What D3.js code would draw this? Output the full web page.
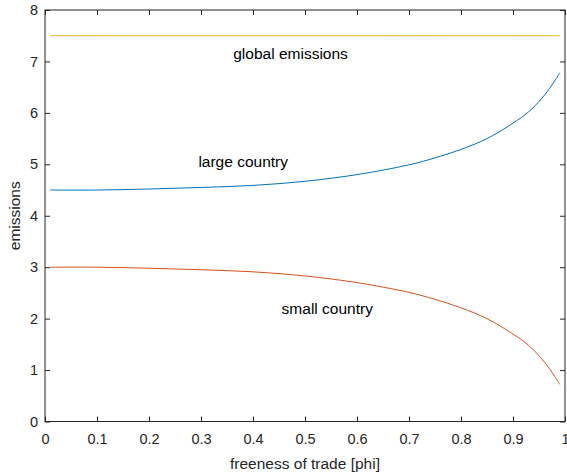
<!DOCTYPE html>
<html>
<head>
<meta charset="utf-8">
<script src="https://cdn.jsdelivr.net/npm/d3@7"></script>
<style>
  body { margin: 0; background: #fff; }
  svg { display: block; font-family: "Liberation Sans", Arial, sans-serif; }
</style>
</head>
<body>
<svg class="chart"></svg>
<script>
// values
PHI = [0.01, 0.1, 0.2, 0.3, 0.4, 0.5, 0.6, 0.7, 0.75, 0.8, 0.85, 0.9, 0.93, 0.95, 0.97, 0.98, 0.99];
GLOBAL_EMISSIONS = [7.5, 7.5, 7.5, 7.5, 7.5, 7.5, 7.5, 7.5, 7.5, 7.5, 7.5, 7.5, 7.5, 7.5, 7.5, 7.5, 7.5];
LARGE_COUNTRY = [4.50, 4.50, 4.52, 4.55, 4.59, 4.67, 4.80, 4.99, 5.125, 5.29, 5.50, 5.80, 6.02, 6.22, 6.47, 6.62, 6.78];
SMALL_COUNTRY = [3.00, 3.00, 2.98, 2.95, 2.91, 2.83, 2.70, 2.51, 2.375, 2.21, 2.00, 1.70, 1.48, 1.28, 1.03, 0.88, 0.72];

X_TICKS = [0, 0.1, 0.2, 0.3, 0.4, 0.5, 0.6, 0.7, 0.8, 0.9, 1];
Y_TICKS = [0, 1, 2, 3, 4, 5, 6, 7, 8];

LABELS = [
    {text: "global emissions", phi: 0.362, value: 7.15},
    {text: "large country", phi: 0.295, value: 5.05},
    {text: "small country", phi: 0.455, value: 2.19}
];

WIDTH = 567;
HEIGHT = 475;
MARGIN = {top: 10, right: 2, bottom: 53.5, left: 45};
TICK_LEN = 5;
AXIS_COLOR = "#262626";

svg = d3.select(".chart").attr("width", WIDTH).attr("height", HEIGHT);

plotW = WIDTH - MARGIN.left - MARGIN.right;
plotH = HEIGHT - MARGIN.top - MARGIN.bottom;

x = d3.scaleLinear().domain([0, 1]).range([MARGIN.left, MARGIN.left + plotW]);
y = d3.scaleLinear().domain([0, 8]).range([MARGIN.top + plotH, MARGIN.top]);

function styleAxis(g, showLabels) {
    g.select(".domain").remove();
    g.selectAll(".tick line").attr("stroke", AXIS_COLOR);
    g.selectAll(".tick text")
        .attr("fill", AXIS_COLOR)
        .style("font-size", "14.5px")
        .style("font-family", "'Liberation Sans', Arial, sans-serif");
    if (!showLabels) g.selectAll(".tick text").remove();
}

// bottom
svg.append("g")
    .attr("transform", "translate(0," + y(0) + ")")
    .call(d3.axisBottom(x).tickValues(X_TICKS).tickFormat(d3.format("")).tickSizeInner(-TICK_LEN).tickSizeOuter(0).tickPadding(12))
    .call(g => styleAxis(g, true));
// top
svg.append("g")
    .attr("transform", "translate(0," + y(8) + ")")
    .call(d3.axisTop(x).tickValues(X_TICKS).tickSizeInner(-TICK_LEN).tickSizeOuter(0))
    .call(g => styleAxis(g, false));
// left
svg.append("g")
    .attr("transform", "translate(" + x(0) + ",0)")
    .call(d3.axisLeft(y).tickValues(Y_TICKS).tickFormat(d3.format("d")).tickSizeInner(-TICK_LEN).tickSizeOuter(0).tickPadding(7))
    .call(g => styleAxis(g, true));
// right
svg.append("g")
    .attr("transform", "translate(" + x(1) + ",0)")
    .call(d3.axisRight(y).tickValues(Y_TICKS).tickSizeInner(-TICK_LEN).tickSizeOuter(0))
    .call(g => styleAxis(g, false));

// box
svg.append("rect")
    .attr("x", x(0)).attr("y", y(8))
    .attr("width", x(1) - x(0)).attr("height", y(0) - y(8))
    .attr("fill", "none")
    .attr("stroke", AXIS_COLOR)
    .attr("stroke-width", 1);

series = [
    {values: LARGE_COUNTRY, color: "#0072BD"},
    {values: SMALL_COUNTRY, color: "#D95319"},
    {values: GLOBAL_EMISSIONS, color: "#EDB120"}
];

line = d3.line()
    .x(function(d) { return x(d[0]); })
    .y(function(d) { return y(d[1]); })
    .curve(d3.curveCatmullRom.alpha(0.5));

series.forEach(function(s) {
    svg.append("path")
        .datum(PHI.map(function(p, i) { return [p, s.values[i]]; }))
        .attr("fill", "none")
        .attr("stroke", s.color)
        .attr("stroke-width", 1)
        .attr("d", line);
});

svg.selectAll(".annot")
    .data(LABELS)
    .enter().append("text")
    .attr("class", "annot")
    .attr("x", function(d) { return x(d.phi); })
    .attr("y", function(d) { return y(d.value); })
    .attr("dy", "0.35em")
    .attr("fill", "#000")
    .style("font-size", "15.5px")
    .text(function(d) { return d.text; });

// axis labels
svg.append("text")
    .attr("x", (x(0) + x(1)) / 2)
    .attr("y", 469)
    .attr("text-anchor", "middle")
    .attr("fill", AXIS_COLOR)
    .style("font-size", "15.5px")
    .text("freeness of trade [phi]");

svg.append("text")
    .attr("transform", "translate(20," + (y(0) + y(8)) / 2 + ") rotate(-90)")
    .attr("text-anchor", "middle")
    .attr("fill", AXIS_COLOR)
    .style("font-size", "15.5px")
    .text("emissions");
</script>
</body>
</html>
